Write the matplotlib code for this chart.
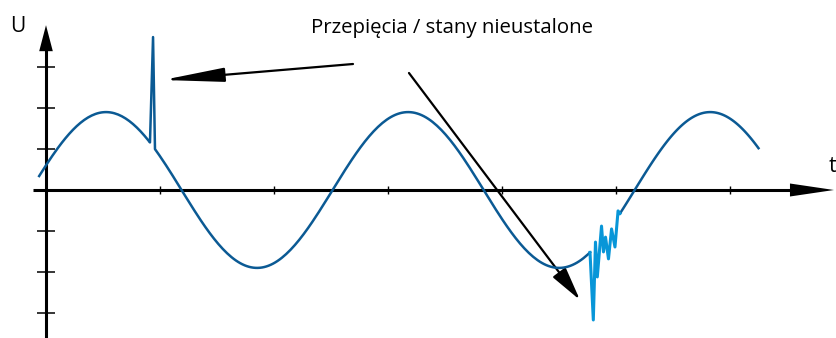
import numpy as np
import matplotlib.pyplot as plt

# jednostki: 1 = odstep miedzy znacznikami osi
x_ticks = [1, 2, 3, 4, 5, 6]
y_ticks = [-3, -2, -1, 1, 2, 3]

# przebieg sinusoidalny
amplituda = 1.90
okres = 2.65
faza = -0.136          # przejscie przez zero (narastajace)
t_start = -0.06
t_koniec = 6.25

# przepiecie (szpilka)
spike_t = [0.912, 0.939, 0.956]
spike_u = [None, 3.73, None]

# stan nieustalony (jasnoniebieski)
trans_t = [4.772, 4.801, 4.820, 4.836, 4.873, 4.890, 4.908, 4.934, 4.961, 4.991, 5.018, 5.035]
trans_u = [None, -3.17, -1.27, -2.12, -0.88, -1.51, -1.15, -1.68, -0.95, -1.39, -0.51, None]


def sinus(t):
    return amplituda * np.sin(2 * np.pi * (np.asarray(t) - faza) / okres)


ciemny = '#0b5a94'
jasny = '#0896d8'

fig = plt.figure(figsize=(8.36, 3.38), dpi=100)
ax = fig.add_axes([0, 0, 1, 1])
ax.set_xlim(-46 / 114, 790 / 114)
ax.set_ylim(-148 / 41, 190 / 41)
ax.axis('off')

# osie
ax.plot([-0.114, 6.6], [0, 0], color='k', lw=2.2, solid_capstyle='butt', zorder=3)
ax.plot([0, 0], [-3.7, 3.6], color='k', lw=2.2, solid_capstyle='butt', zorder=3)
ax.annotate('', xy=(6.912, 0), xytext=(6.5, 0),
            arrowprops=dict(arrowstyle='-|>,head_length=44,head_width=6.5', mutation_scale=0.72,
                            lw=0, fc='k', ec='k', shrinkA=0, shrinkB=0), zorder=3)
ax.annotate('', xy=(0, 4.02), xytext=(0, 3.0),
            arrowprops=dict(arrowstyle='-|>,head_length=26,head_width=6.8', mutation_scale=0.72,
                            lw=0, fc='k', ec='k', shrinkA=0, shrinkB=0), zorder=3)
ax.hlines(y_ticks, -0.079, 0.079, color='k', lw=1.1, zorder=3)
ax.vlines(x_ticks, -0.1, 0.1, color='k', lw=1.0, zorder=3)

ax.text(-0.25, 3.85, 'U', fontsize=15, family='Open Sans', ha='center', va='baseline')
ax.text(6.895, 0.45, 't', fontsize=15, family='Open Sans', ha='center', va='baseline')

# sinusoida z przepieciem
t1 = np.linspace(t_start, spike_t[0], 60)
t2 = np.linspace(spike_t[-1], trans_t[0], 200)
t3 = np.linspace(trans_t[-1], t_koniec, 80)
sp_u = [sinus(spike_t[0]), spike_u[1], sinus(spike_t[-1])]
seg_t = np.concatenate([t1, spike_t, t2])
seg_u = np.concatenate([sinus(t1), sp_u, sinus(t2)])
ax.plot(seg_t, seg_u, color=ciemny, lw=1.8, zorder=4)
ax.plot(t3, sinus(t3), color=ciemny, lw=1.8, zorder=4)

tr_u = [sinus(trans_t[0])] + trans_u[1:-1] + [sinus(trans_t[-1])]
ax.plot(trans_t, tr_u, color=jasny, lw=2.2, zorder=5)

# opis i strzalki
ax.text(3.56, 3.83, 'Przepięcia / stany nieustalone', fontsize=14.7, family='Open Sans',
        ha='center', va='baseline')
ax.annotate('', xy=(1.026, 2.683), xytext=(2.693, 3.073),
            arrowprops=dict(arrowstyle='-|>,head_length=52,head_width=6', mutation_scale=0.72,
                            lw=1.6, fc='k', ec='k', shrinkA=0, shrinkB=0))
ax.annotate('', xy=(4.684, -2.683), xytext=(3.184, 2.854),
            arrowprops=dict(arrowstyle='-|>,head_length=29,head_width=6.8', mutation_scale=0.72,
                            lw=1.6, fc='k', ec='k', shrinkA=0, shrinkB=0))

fig.savefig('out.png', dpi=100)
